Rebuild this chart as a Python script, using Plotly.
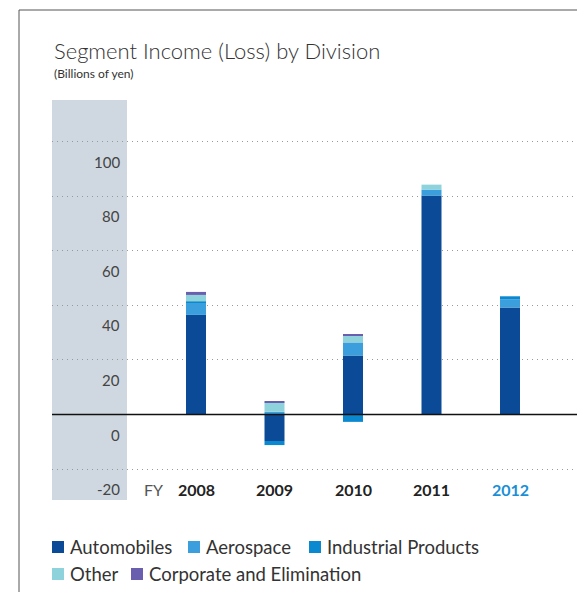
import plotly.graph_objects as go

# Segment income (loss) by division, billions of yen
years = ["2008", "2009", "2010", "2011", "2012"]
automobiles = [36.5, -9.7, 21.6, 80.2, 39.2]
aerospace = [4.5, 1.0, 4.8, 2.2, 2.9]
industrial = [0.4, -1.5, -2.7, 0.0, 1.2]
other = [2.4, 3.4, 2.7, 1.8, 0.0]
corporate = [1.1, 0.3, 0.3, 0.0, 0.0]

series_names = ["Automobiles", "Aerospace", "Industrial Products", "Other",
                "Corporate and Elimination"]
series_values = [automobiles, aerospace, industrial, other, corporate]
series_colors = ["#0b4a96", "#3a9fdc", "#0a88d0", "#8ed3dc", "#6a5fae"]

y_ticks = [-20, 0, 20, 40, 60, 80, 100]
highlight_year = "2012"

# page geometry (pixels)
W, H = 577, 592
L, T, R, B = 52, 100, 577, 500


def px(x):
    return (x - L) / (R - L)


def py(y):
    return (B - y) / (B - T)


FONT = "Lato, 'Open Sans', sans-serif"

fig = go.Figure()
for name, vals, col in zip(series_names, series_values, series_colors):
    fig.add_trace(go.Bar(x=years, y=vals, name=name, marker_color=col,
                         marker_line_width=0, showlegend=False))

annotations = []
shapes = []

# grey band behind the value labels
shapes.append(dict(type="rect", xref="paper", yref="paper", x0=0, x1=px(127),
                   y0=0, y1=1, fillcolor="#cfd8e0", line_width=0, layer="below"))
# solid zero line over the bars
shapes.append(dict(type="line", xref="paper", yref="y", x0=0, x1=1, y0=0, y1=0,
                   line=dict(color="#111111", width=1.5), layer="above"))
# frame lines
shapes.append(dict(type="line", xref="paper", yref="paper", x0=px(19), x1=px(577),
                   y0=py(10), y1=py(10), line=dict(color="#555555", width=1)))
shapes.append(dict(type="line", xref="paper", yref="paper", x0=px(19), x1=px(19),
                   y0=py(10), y1=py(592), line=dict(color="#555555", width=1)))

# value labels sit just below their gridline
for v in y_ticks:
    annotations.append(dict(x=px(122), xref="paper", y=v, yref="y", yshift=-20,
                            text=str(v), showarrow=False, xanchor="right",
                            yanchor="middle",
                            font=dict(family=FONT, size=15, color="#444444")))

# fiscal year labels (category index positions on the x axis)
annotations.append(dict(x=px(153), xref="paper", y=py(489), yref="paper",
                        text="FY", showarrow=False, xanchor="center",
                        yanchor="middle",
                        font=dict(family=FONT, size=16, color="#555555")))
for i, yr in enumerate(years):
    col = "#1a8fd6" if yr == highlight_year else "#222222"
    annotations.append(dict(x=i, xref="x", y=py(489), yref="paper",
                            text="<b>%s</b>" % yr, showarrow=False,
                            xanchor="center", yanchor="middle",
                            font=dict(family=FONT, size=16, color=col)))

# title and unit
annotations.append(dict(x=0, xref="paper", y=py(51), yref="paper",
                        text="Segment Income (Loss) by Division", showarrow=False,
                        xanchor="left", yanchor="middle",
                        font=dict(family=FONT, size=22, color="#333333", weight=300)))
annotations.append(dict(x=0, xref="paper", y=py(73), yref="paper",
                        text="(Billions of yen)", showarrow=False,
                        xanchor="left", yanchor="middle",
                        font=dict(family=FONT, size=12, color="#333333")))

# legend: swatch left edge, text left edge, row centre
legend_pos = [(52, 68, 547), (188, 204, 547), (309, 325, 547),
              (52, 68, 574), (131, 147, 574)]
for name, col, (sx, tx, ry) in zip(series_names, series_colors, legend_pos):
    shapes.append(dict(type="rect", xref="paper", yref="paper",
                       x0=px(sx), x1=px(sx + 12), y0=py(ry + 6), y1=py(ry - 6),
                       fillcolor=col, line_width=0))
    annotations.append(dict(x=px(tx), xref="paper", y=py(ry), yref="paper",
                            text=name, showarrow=False, xanchor="left",
                            yanchor="middle",
                            font=dict(family=FONT, size=18.5, color="#333333")))

step = 78.5
first_bar = 196
fig.update_layout(
    width=W, height=H,
    margin=dict(l=L, r=W - R, t=T, b=H - B, pad=0),
    paper_bgcolor="white", plot_bgcolor="rgba(0,0,0,0)",
    barmode="relative", bargap=1 - 20 / step,
    xaxis=dict(type="category", range=[(L - first_bar) / step, (R - first_bar) / step],
               showticklabels=False, showgrid=False, zeroline=False,
               showline=False, ticks=""),
    yaxis=dict(range=[-(B - 414.5) / 2.73, (414.5 - T) / 2.73],
               tickvals=y_ticks, showticklabels=False, showgrid=True,
               gridcolor="#999999", griddash="1px,4px", gridwidth=1.2,
               zeroline=False, showline=False, ticks=""),
    shapes=shapes, annotations=annotations,
)

fig.write_html("out.html")
